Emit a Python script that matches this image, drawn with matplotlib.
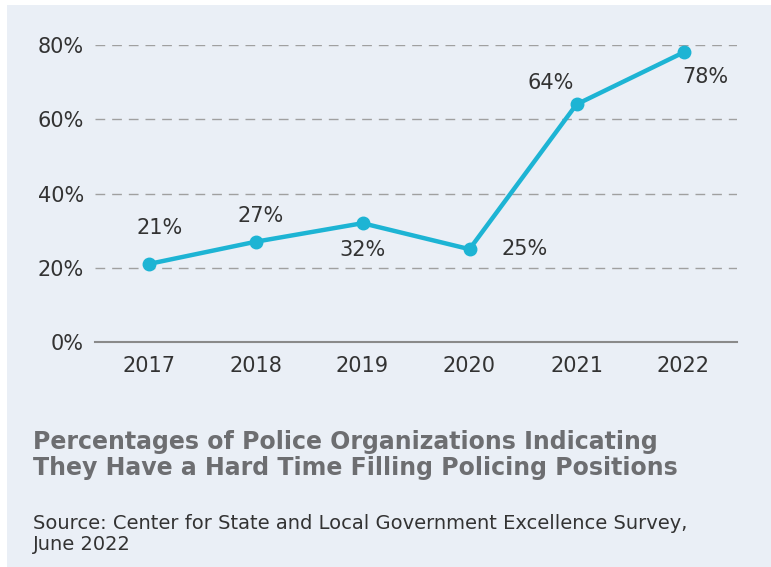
import matplotlib.pyplot as plt
from matplotlib.patches import Rectangle

# data
years = ['2017', '2018', '2019', '2020', '2021', '2022']
values = [21, 27, 32, 25, 64, 78]
yticks = [0, 20, 40, 60, 80]
# label offsets in pixels (dx, dy), relative to each point
offsets = [(11, 36), (5, 26), (0, -27), (55, 0), (-26, 21), (22, -25)]

W, H = 771, 567
fig = plt.figure(figsize=(W / 100, H / 100), dpi=100, facecolor='white')

# light panel behind everything
fig.patches.append(Rectangle((7 / W, 0), 1 - 7 / W, 1 - 5 / H, transform=fig.transFigure,
                             facecolor='#eaeff6', edgecolor='none', zorder=-5))

ax = fig.add_axes([95 / W, 1 - 342 / H, (737 - 95) / W, (342 - 45) / H])
ax.set_facecolor('none')
ax.set_zorder(2)

x = list(range(len(years)))
ax.plot(x, values, color='#1db4d4', lw=3.2, marker='o', ms=9, clip_on=False, zorder=3)

for xi, v, (dx, dy) in zip(x, values, offsets):
    ax.annotate(f'{v}%', (xi, v), xytext=(dx * 0.72, dy * 0.72), textcoords='offset points',
                ha='center', va='center', fontsize=15, color='#333333')

ax.set_xlim(-0.5, len(years) - 0.5)
ax.set_ylim(0, 80)
ax.set_yticks(yticks)
ax.set_yticklabels([f'{t}%' for t in yticks], fontsize=15, color='#333333')
ax.set_xticks(x)
ax.set_xticklabels(years, fontsize=15, color='#333333')
ax.tick_params(axis='y', length=0, pad=8)
ax.tick_params(axis='x', length=0, pad=10)

for t in yticks[1:]:
    ax.axhline(t, color='#a0a0a0', lw=1, ls=(0, (7, 5)), zorder=1)

for s in ['top', 'right', 'left']:
    ax.spines[s].set_visible(False)
ax.spines['bottom'].set_color('#8a8a8a')
ax.spines['bottom'].set_linewidth(1.5)

fig.text(33 / W, 1 - 455 / H, 'Percentages of Police Organizations Indicating\nThey Have a Hard Time Filling Policing Positions',
         fontsize=17, fontweight='bold', color='#6d6e71', va='center', ha='left', linespacing=1.12)
fig.text(33 / W, 1 - 534 / H, 'Source: Center for State and Local Government Excellence Survey,\nJune 2022',
         fontsize=14, color='#333333', va='center', ha='left', linespacing=1.12)

fig.savefig('out.png', dpi=100, facecolor=fig.get_facecolor())
